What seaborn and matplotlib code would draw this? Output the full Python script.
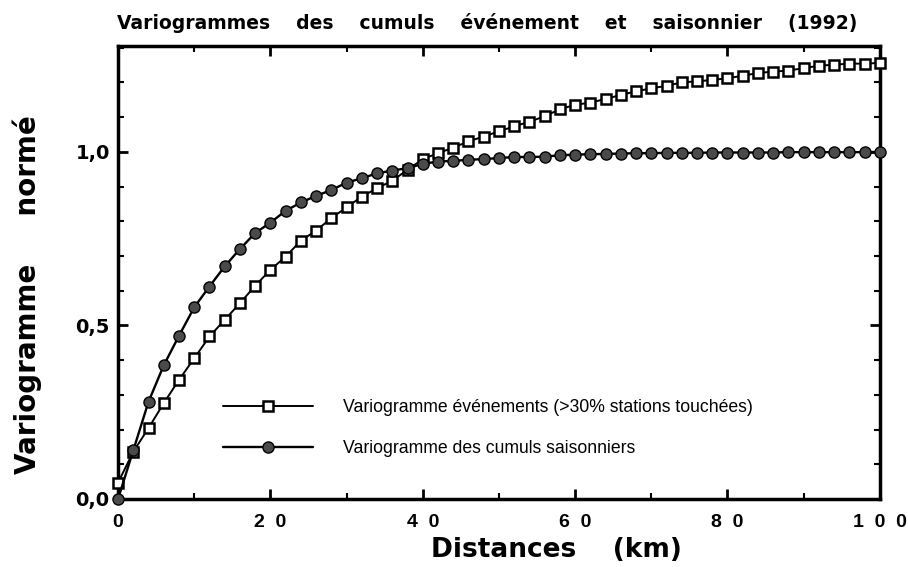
import numpy as np
import pandas as pd
import matplotlib
matplotlib.use("Agg")
import matplotlib.pyplot as plt
import seaborn as sns
from matplotlib.ticker import MultipleLocator, FixedLocator

# Data (distance every 2 km)
distances = list(range(0, 101, 2))

vario_evenements = [0.047, 0.136, 0.204, 0.276, 0.343, 0.405, 0.468, 0.516, 0.564, 0.614,
                    0.660, 0.698, 0.744, 0.773, 0.809, 0.840, 0.871, 0.895, 0.917, 0.948,
                    0.979, 0.996, 1.012, 1.030, 1.044, 1.059, 1.073, 1.087, 1.102, 1.123,
                    1.135, 1.142, 1.152, 1.164, 1.174, 1.183, 1.190, 1.200, 1.203, 1.207,
                    1.212, 1.219, 1.227, 1.231, 1.234, 1.241, 1.248, 1.251, 1.254, 1.254,
                    1.256]

vario_saisonniers = [0.0, 0.140, 0.280, 0.385, 0.470, 0.552, 0.612, 0.670, 0.720, 0.766,
                     0.796, 0.830, 0.854, 0.873, 0.890, 0.911, 0.924, 0.938, 0.946, 0.953,
                     0.965, 0.972, 0.974, 0.977, 0.979, 0.982, 0.985, 0.985, 0.986, 0.990,
                     0.992, 0.993, 0.994, 0.995, 0.996, 0.996, 0.997, 0.997, 0.997, 0.998,
                     0.998, 0.998, 0.998, 0.998, 0.999, 0.999, 0.999, 0.999, 0.999, 0.999,
                     1.0]

label_evt = "Variogramme événements (>30% stations touchées)"
label_sais = "Variogramme des cumuls saisonniers"

x_ticks = [0, 20, 40, 60, 80, 100]
x_ticklabels = ["0", "2  0", "4  0", "6  0", "8  0", "1  0  0"]
y_ticks = [0.0, 0.5, 1.0]
y_ticklabels = ["0,0", "0,5", "1,0"]

df = pd.DataFrame({"distance": distances,
                   "evt": vario_evenements,
                   "sais": vario_saisonniers})

sns.set_style("ticks")
plt.rcParams['font.family'] = ['Liberation Sans', 'DejaVu Sans']
plt.rcParams['text.color'] = 'black'
plt.rcParams['axes.labelcolor'] = 'black'
plt.rcParams['xtick.color'] = 'black'
plt.rcParams['ytick.color'] = 'black'
wide_bold = {"family": "DejaVu Sans", "weight": "bold"}

fig = plt.figure(figsize=(9.08, 5.67), dpi=100)
ax = fig.add_axes([0.130, 0.120, 0.839, 0.799])

sns.lineplot(data=df, x="distance", y="evt", ax=ax, color="black", linewidth=1.4,
             marker="s", markersize=6.5, markerfacecolor="white",
             markeredgecolor="black", markeredgewidth=1.8,
             label=label_evt, clip_on=False, zorder=3)
sns.lineplot(data=df, x="distance", y="sais", ax=ax, color="black", linewidth=1.7,
             marker="o", markersize=8, markerfacecolor="#4a4a4a",
             markeredgecolor="black", markeredgewidth=1.0,
             label=label_sais, clip_on=False, zorder=4)

ax.set_xlim(0, 100)
ax.set_ylim(0, 1.305)

ax.xaxis.set_major_locator(FixedLocator(x_ticks))
ax.set_xticklabels(x_ticklabels, fontsize=14, fontweight="bold")
ax.xaxis.set_minor_locator(MultipleLocator(10))
ax.yaxis.set_major_locator(FixedLocator(y_ticks))
ax.set_yticklabels(y_ticklabels, fontsize=14, **wide_bold)
ax.yaxis.set_minor_locator(MultipleLocator(0.1))

ax.tick_params(which="both", direction="in", top=True, right=True, color="black")
ax.tick_params(which="major", length=7, width=2)
ax.tick_params(which="minor", length=4, width=1.5)
ax.tick_params(axis="x", which="major", pad=11)
ax.tick_params(axis="y", which="major", pad=6)

for s in ax.spines.values():
    s.set_linewidth(2.5)
    s.set_color("black")

ax.set_title("Variogrammes    des    cumuls    événement    et    saisonnier    (1992)",
             fontsize=13.5, pad=12, x=0.485, color="black", **wide_bold)
ax.set_xlabel("Distances    (km)", fontsize=19, color="black", **wide_bold)
ax.xaxis.set_label_coords(0.575, -0.085)
ax.set_ylabel("Variogramme     normé", fontsize=20, color="black", **wide_bold)
ax.yaxis.set_label_coords(-0.10, 0.45)

leg = ax.legend(loc="upper left", bbox_to_anchor=(0.128, 0.236), frameon=False,
                fontsize=12.7, handlelength=5.1, handletextpad=1.7,
                labelspacing=1.37, borderaxespad=0)
for t in leg.get_texts():
    t.set_color("black")

fig.savefig("out.png", dpi=100)
